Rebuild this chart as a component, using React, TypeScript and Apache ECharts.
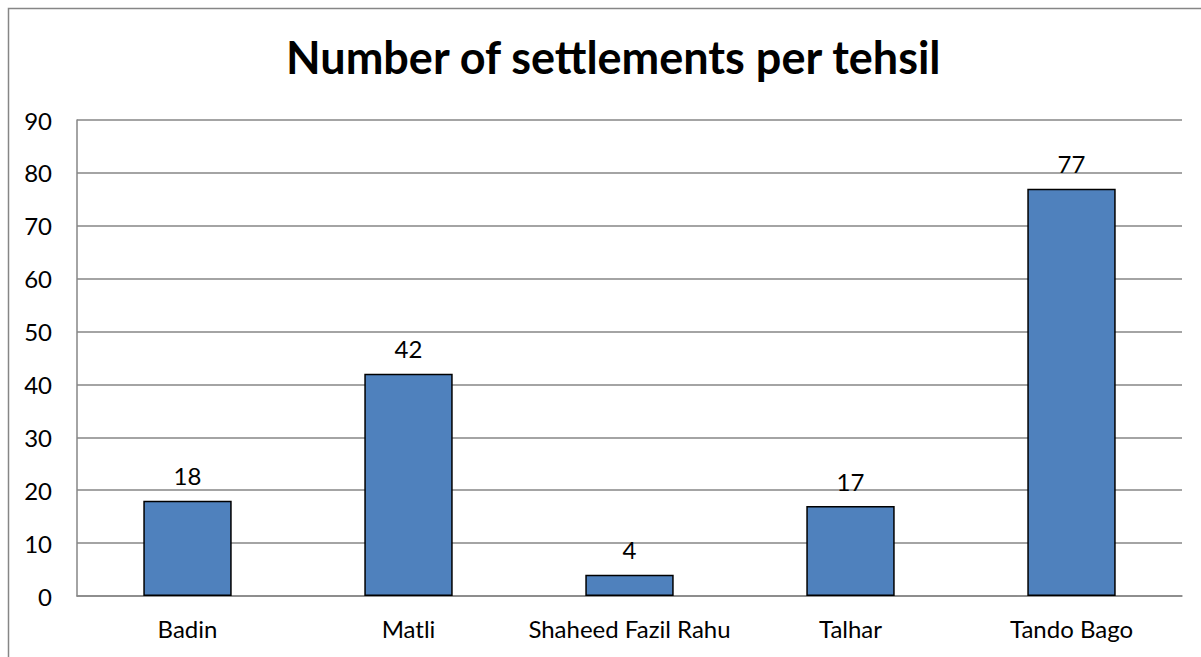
import React, { useEffect, useRef } from "react";
import * as echarts from "echarts";

const titleText = "Number of settlements per tehsil";
const categories = ["Badin", "Matli", "Shaheed Fazil Rahu", "Talhar", "Tando Bago"];
const settlements = [18, 42, 4, 17, 77];
const yMin = 0;
const yMax = 90;
const yInterval = 10;

const FONT = "Lato, 'Open Sans', sans-serif";

export default function App() {
  const ref = useRef<HTMLDivElement>(null);
  useEffect(() => {
    if (!ref.current) return;
    const chart = echarts.init(ref.current, null, { renderer: "svg" });
    chart.setOption({
      animation: false,
      backgroundColor: "#ffffff",
      title: {
        text: titleText,
        left: 281,
        top: 29,
        textStyle: { fontFamily: FONT, fontSize: 45, fontWeight: "bold", color: "#000000" },
      },
      graphic: [
        {
          type: "rect",
          shape: { x: 8.5, y: 8.5, width: 1300, height: 800 },
          style: { fill: "none", stroke: "#868686", lineWidth: 1.5 },
          silent: true,
        },
      ],
      grid: { left: 77, right: 19, top: 120, bottom: 61, containLabel: false },
      xAxis: {
        type: "category",
        data: categories,
        axisLine: { show: true, lineStyle: { color: "#868686", width: 1.5 } },
        axisTick: { show: false },
        axisLabel: { fontFamily: FONT, fontSize: 24, color: "#000000", margin: 20, interval: 0 },
      },
      yAxis: {
        type: "value",
        min: yMin,
        max: yMax,
        interval: yInterval,
        axisLine: { show: true, lineStyle: { color: "#868686", width: 1.5 } },
        axisTick: { show: false },
        splitLine: { show: true, lineStyle: { color: "#868686", width: 1.5 } },
        axisLabel: { fontFamily: FONT, fontSize: 24, color: "#000000", margin: 25 },
      },
      series: [
        {
          type: "bar",
          data: settlements,
          barWidth: "40%",
          itemStyle: { color: "#4F81BD", borderColor: "#000000", borderWidth: 1.5 },
          label: {
            show: true,
            position: "top",
            distance: 13,
            fontFamily: FONT,
            fontSize: 24,
            color: "#000000",
          },
        },
      ],
    });
    return () => chart.dispose();
  }, []);
  return (
    <div style={{ position: "fixed", left: 0, top: 0, width: 1201, height: 657, overflow: "hidden", background: "#fff" }}>
      <div ref={ref} style={{ width: 1201, height: 657 }} />
    </div>
  );
}
